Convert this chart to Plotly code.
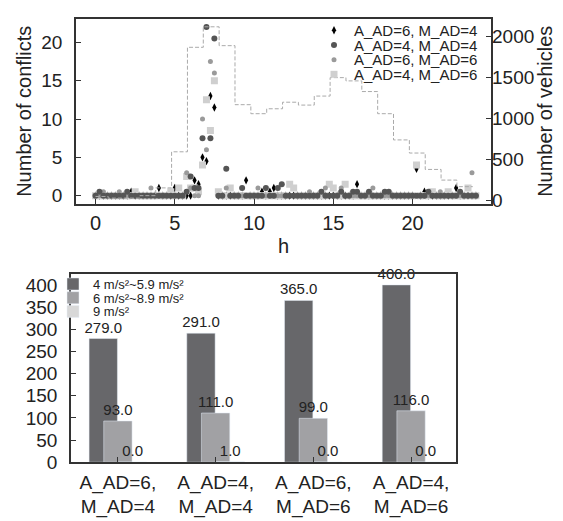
import plotly.graph_objects as go

# ── Top panel: conflicts per quarter hour and vehicles per hour ─────────────
hours = [
    0, 0.25, 0.5, 0.75, 1, 1.25, 1.5, 1.75,
    2, 2.25, 2.5, 2.75, 3, 3.25, 3.5, 3.75,
    4, 4.25, 4.5, 4.75, 5, 5.25, 5.5, 5.75,
    6, 6.25, 6.5, 6.75, 7, 7.25, 7.5, 7.75,
    8, 8.25, 8.5, 8.75, 9, 9.25, 9.5, 9.75,
    10, 10.25, 10.5, 10.75, 11, 11.25, 11.5, 11.75,
    12, 12.25, 12.5, 12.75, 13, 13.25, 13.5, 13.75,
    14, 14.25, 14.5, 14.75, 15, 15.25, 15.5, 15.75,
    16, 16.25, 16.5, 16.75, 17, 17.25, 17.5, 17.75,
    18, 18.25, 18.5, 18.75, 19, 19.25, 19.5, 19.75,
    20, 20.25, 20.5, 20.75, 21, 21.25, 21.5, 21.75,
    22, 22.25, 22.5, 22.75, 23, 23.25, 23.5, 23.75,
    24,
]

conf_a6_m4 = [
    0, 0, 0, 0, 0, 0, 0, 0,
    0, 0.5, 0, 0, 0, 0, 0, 0,
    1, 0, 0, 0, 1, 0, 0, 0,
    0, 2, 1.5, 5, 4.5, 13, 11.5, 0,
    0, 0, 0, 0, 0, 0, 2, 0,
    0, 0, 0.5, 0, 0.5, 1, 0, 0,
    0, 0, 0, 0, 0, 0, 0, 0,
    0, 0, 0, 0, 0, 0, 0, 0,
    0, 0, 1.5, 0, 0, 0, 0, 0,
    0, 0, 0, 0, 0, 0, 0, 0,
    0, 3.5, 0, 0.5, 0, 0, 0, 0,
    0, 0, 0, 1, 0, 0, 0, 0,
    0,
]
conf_a4_m4 = [
    0, 0.5, 0, 0, 0, 0, 0, 0,
    0.5, 0, 0, 0, 0, 0, 0, 0,
    0, 0, 0, 0, 0, 0, 0, 0.5,
    2.5, 1, 1, 7.5, 22, 7.5, 20.5, 0,
    0, 3.5, 0, 0, 0, 1, 0, 0,
    0, 0, 0, 1, 0, 0, 1, 1.5,
    0, 0, 0, 0, 0, 0, 0, 0,
    0, 0.5, 0, 0, 0, 0, 0.5, 0,
    0, 0.5, 0.5, 0, 0, 0.5, 0, 0,
    0, 0.5, 0.5, 0, 0, 0, 0, 0,
    0, 0, 0, 0, 0.5, 0, 0, 0,
    0, 0, 0, 0, 0.5, 0, 0, 0,
    0,
]
conf_a6_m6 = [
    0, 0, 0.5, 0, 0, 0, 0.5, 0,
    0, 0, 0, 0, 0, 0, 1, 0,
    0, 0, 0, 0, 0, 0, 0, 3,
    1, 0, 0, 10, 6, 17.5, 16, 0,
    0, 1, 0, 0, 0, 0, 0, 0,
    0, 1, 0, 0, 0, 0, 0, 0,
    0, 0, 0, 0, 0, 0, 0.5, 0,
    0, 0.5, 1, 0, 0, 0, 1, 0,
    0, 0, 0, 0, 0, 0, 1, 0,
    0, 0, 0, 0, 0, 0, 0, 0,
    0, 0, 0, 0, 0, 0, 0, 0.5,
    0, 0, 0, 0, 0, 0, 0, 3,
    0,
]
conf_a4_m6 = [
    0, 0, 0, 0, 0, 0, 0, 0,
    0, 0, 0.5, 0, 0, 0, 0, 0,
    0, 0, 0, 0.5, 0, 1, 0, 2.5,
    1, 1, 0.5, 4, 12.5, 8.5, 15, 0.5,
    0, 0, 1, 0, 0, 0, 0, 0,
    0, 0, 0, 0, 0, 0, 0, 0,
    0, 1.5, 1, 0, 0, 0, 0, 0,
    0, 0, 0, 1.5, 1, 0, 0, 1.5,
    0, 0, 0, 0, 0, 0, 0, 0,
    0, 0, 0, 0, 0, 0, 0, 0,
    0, 4, 0, 0, 0, 0.5, 0, 0,
    0, 0.5, 0, 0, 0, 0, 1, 0,
    0,
]

# hourly vehicle counts, drawn as steps (step edges in h)
veh_edges = [0, 0.8, 1.8, 2.8, 3.8, 4.8, 5.8, 6.8, 7.8, 8.8, 9.8, 10.8, 11.8,
             12.8, 13.8, 14.8, 15.8, 16.8, 17.8, 18.8, 19.8, 20.8, 21.8, 22.8, 23.8]
vehicles = [50, 30, 30, 60, 155, 595, 1870, 2120, 1890, 1170, 1060, 1120, 1200,
            1165, 1275, 1500, 1460, 1330, 1060, 740, 580, 380, 250, 170, 170]

# ── Bottom panel: conflicts per deceleration class ──────────────────────────
scenarios = ['A_AD=6,<br>M_AD=4', 'A_AD=4,<br>M_AD=4',
             'A_AD=6,<br>M_AD=6', 'A_AD=4,<br>M_AD=6']
dec_low = [279, 291, 365, 400]
dec_mid = [93, 111, 99, 116]
dec_high = [0, 1, 0, 0]

FONT = 'Liberation Sans, Arial, sans-serif'
AXIS = '#333333'
W, H = 563, 521

fig = go.Figure()

# scatter series: one small legend per entry so the rows sit tight together
# (name, values, marker, legend id, legend row centre in px)
series = [
    ('A_AD=6, M_AD=4', conf_a6_m4,
     dict(symbol='diamond-tall', size=6, color='#000000'), 'legend', 23),
    ('A_AD=4, M_AD=6', conf_a4_m6,
     dict(symbol='square', size=7, color='#cfcfcf'), 'legend4', 68),
    ('A_AD=6, M_AD=6', conf_a6_m6,
     dict(symbol='circle', size=5, color='#9a9a9a'), 'legend3', 53),
    ('A_AD=4, M_AD=4', conf_a4_m4,
     dict(symbol='circle', size=6, color='#555555'), 'legend2', 38),
]
legends = {}
for name, vals, marker, leg, ypx in series:
    fig.add_trace(go.Scatter(
        x=hours, y=vals, name=name, mode='markers', marker=marker,
        xaxis='x', yaxis='y', legend=leg,
    ))
    legends[leg] = dict(x=475 / W, xanchor='right', y=1 - ypx / H, yanchor='middle',
                        bgcolor='rgba(0,0,0,0)', font=dict(size=15),
                        itemwidth=30)

fig.add_trace(go.Scatter(
    x=veh_edges, y=vehicles, mode='lines', line_shape='hv',
    line=dict(color='#aaaaaa', width=1, dash='4px,2px'),
    xaxis='x', yaxis='y2', showlegend=False,
))

# overlapping bars
bar_specs = [
    ('4 m/s²~5.9 m/s²', dec_low, '#67676a', -0.295, 'legend5', 282),
    ('6 m/s²~8.9 m/s²', dec_mid, '#a1a1a4', -0.145, 'legend6', 296),
    ('9 m/s²', dec_high, '#d8d8d8', 0.005, 'legend7', 310),
]
for name, vals, color, off, leg, ypx in bar_specs:
    fig.add_trace(go.Bar(
        x=scenarios, y=vals, name=name, marker_color=color,
        width=0.29, offset=off,
        text=vals, texttemplate='%{y:.1f}', textposition='outside',
        textfont=dict(size=15, color='#222'), cliponaxis=False,
        constraintext='none',
        xaxis='x2', yaxis='y3', legend=leg,
    ))
    legends[leg] = dict(x=45 / W, xanchor='left', y=1 - ypx / H, yanchor='middle',
                        bgcolor='rgba(0,0,0,0)', font=dict(size=13),
                        itemwidth=30)

frame = dict(showline=True, linecolor=AXIS, linewidth=1.5, mirror=True,
             ticks='inside', tickcolor=AXIS, ticklen=5, showgrid=False,
             zeroline=False)

fig.update_layout(
    width=W, height=H,
    margin=dict(l=0, r=0, t=0, b=0),
    paper_bgcolor='white', plot_bgcolor='white',
    font=dict(family=FONT, color='#222', size=16),
    barmode='overlay',
    xaxis=dict(domain=[68 / W, 483 / W], anchor='y', range=[-1.23, 24.95],
               tickvals=[0, 5, 10, 15, 20], tickfont=dict(size=20),
               ticklabelstandoff=0,
               title=dict(text='h', font=dict(size=20), standoff=6), **frame),
    yaxis=dict(domain=[1 - 200 / H, 1 - 11 / H], anchor='x', range=[-1.06, 23.08],
               tickvals=[0, 5, 10, 15, 20], tickfont=dict(size=19),
               ticklabelstandoff=8,
               title=dict(text='Number of conflicts', font=dict(size=20), standoff=4),
               **frame),
    yaxis2=dict(overlaying='y', side='right', anchor='x', range=[-39, 2218],
                tickvals=[0, 500, 1000, 1500, 2000], tickfont=dict(size=19),
                ticklabelstandoff=0,
                title=dict(text='Number of vehicles', font=dict(size=20), standoff=0),
                showline=False, ticks='inside', tickcolor=AXIS, ticklen=5,
                showgrid=False, zeroline=False),
    xaxis2=dict(domain=[63 / W, 448 / W], anchor='y3', range=[-0.48, 3.46],
                tickfont=dict(size=19), ticklabelstandoff=2, **frame),
    yaxis3=dict(domain=[1 - 464 / H, 1 - 272 / H], anchor='x2', range=[0, 424],
                tickvals=[0, 50, 100, 150, 200, 250, 300, 350, 400],
                tickfont=dict(size=19), ticklabelstandoff=8, **frame),
    **legends,
)

fig.write_html("out.html")
